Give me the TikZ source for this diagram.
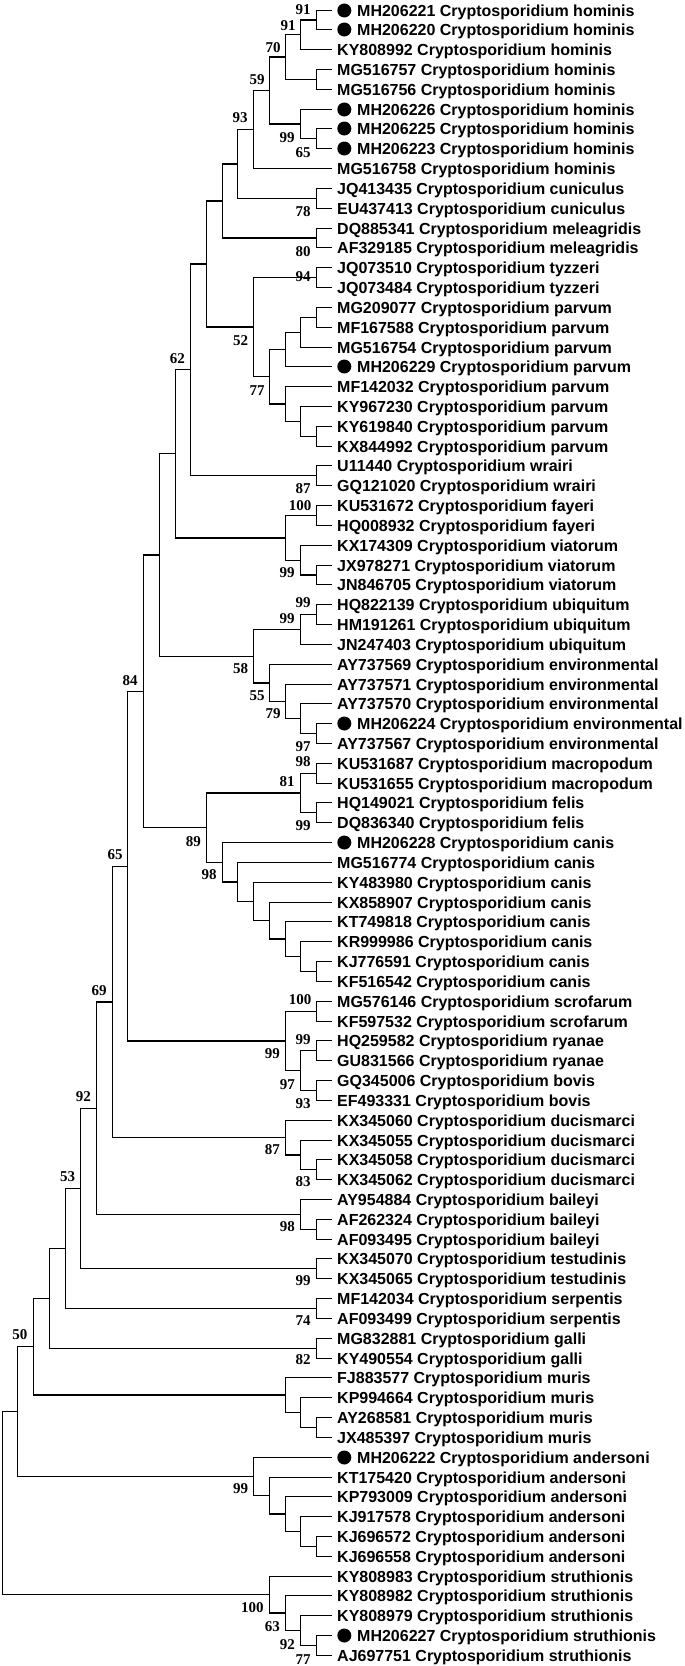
\documentclass[tikz,border=0pt]{standalone}
\usepackage{fontspec}
\setmainfont{Liberation Serif}
\newfontfamily\lsans{Liberation Sans}
\usetikzlibrary{calc}
\tikzset{
  br/.style={line width=1.3pt, black},
  lab/.style={anchor=base west, inner sep=0pt, font=\lsans\bfseries\fontsize{16}{19}\selectfont},
  bs/.style={anchor=center, inner sep=0pt, font=\bfseries\fontsize{15}{18}\selectfont},
  dot/.style={circle, fill=black, minimum size=14pt, inner sep=0pt}
}
\newcommand\cld[4]{%
  \path let \p1=(#3), \p2=(#4), \p3=({round(331.7-15.71*#2)+0.5},0) in (\x3,{0.5*(\y1+\y2)}) coordinate (#1);
  \draw[br] (#3) -| (#1) |- (#4);
}
\begin{document}
\begin{tikzpicture}[x=1pt,y=-1pt]
\fill[white] (0,0) rectangle (685,1666);
\useasboundingbox (0,0) rectangle (685,1666);
\foreach \i/\d/\t in {
1/1/MH206221 Cryptosporidium hominis,
2/1/MH206220 Cryptosporidium hominis,
3/0/KY808992 Cryptosporidium hominis,
4/0/MG516757 Cryptosporidium hominis,
5/0/MG516756 Cryptosporidium hominis,
6/1/MH206226 Cryptosporidium hominis,
7/1/MH206225 Cryptosporidium hominis,
8/1/MH206223 Cryptosporidium hominis,
9/0/MG516758 Cryptosporidium hominis,
10/0/JQ413435 Cryptosporidium cuniculus,
11/0/EU437413 Cryptosporidium cuniculus,
12/0/DQ885341 Cryptosporidium meleagridis,
13/0/AF329185 Cryptosporidium meleagridis,
14/0/JQ073510 Cryptosporidium tyzzeri,
15/0/JQ073484 Cryptosporidium tyzzeri,
16/0/MG209077 Cryptosporidium parvum,
17/0/MF167588 Cryptosporidium parvum,
18/0/MG516754 Cryptosporidium parvum,
19/1/MH206229 Cryptosporidium parvum,
20/0/MF142032 Cryptosporidium parvum,
21/0/KY967230 Cryptosporidium parvum,
22/0/KY619840 Cryptosporidium parvum,
23/0/KX844992 Cryptosporidium parvum,
24/0/U11440 Cryptosporidium wrairi,
25/0/GQ121020 Cryptosporidium wrairi,
26/0/KU531672 Cryptosporidium fayeri,
27/0/HQ008932 Cryptosporidium fayeri,
28/0/KX174309 Cryptosporidium viatorum,
29/0/JX978271 Cryptosporidium viatorum,
30/0/JN846705 Cryptosporidium viatorum,
31/0/HQ822139 Cryptosporidium ubiquitum,
32/0/HM191261 Cryptosporidium ubiquitum,
33/0/JN247403 Cryptosporidium ubiquitum,
34/0/AY737569 Cryptosporidium environmental,
35/0/AY737571 Cryptosporidium environmental,
36/0/AY737570 Cryptosporidium environmental,
37/1/MH206224 Cryptosporidium environmental,
38/0/AY737567 Cryptosporidium environmental,
39/0/KU531687 Cryptosporidium macropodum,
40/0/KU531655 Cryptosporidium macropodum,
41/0/HQ149021 Cryptosporidium felis,
42/0/DQ836340 Cryptosporidium felis,
43/1/MH206228 Cryptosporidium canis,
44/0/MG516774 Cryptosporidium canis,
45/0/KY483980 Cryptosporidium canis,
46/0/KX858907 Cryptosporidium canis,
47/0/KT749818 Cryptosporidium canis,
48/0/KR999986 Cryptosporidium canis,
49/0/KJ776591 Cryptosporidium canis,
50/0/KF516542 Cryptosporidium canis,
51/0/MG576146 Cryptosporidium scrofarum,
52/0/KF597532 Cryptosporidium scrofarum,
53/0/HQ259582 Cryptosporidium ryanae,
54/0/GU831566 Cryptosporidium ryanae,
55/0/GQ345006 Cryptosporidium bovis,
56/0/EF493331 Cryptosporidium bovis,
57/0/KX345060 Cryptosporidium ducismarci,
58/0/KX345055 Cryptosporidium ducismarci,
59/0/KX345058 Cryptosporidium ducismarci,
60/0/KX345062 Cryptosporidium ducismarci,
61/0/AY954884 Cryptosporidium baileyi,
62/0/AF262324 Cryptosporidium baileyi,
63/0/AF093495 Cryptosporidium baileyi,
64/0/KX345070 Cryptosporidium testudinis,
65/0/KX345065 Cryptosporidium testudinis,
66/0/MF142034 Cryptosporidium serpentis,
67/0/AF093499 Cryptosporidium serpentis,
68/0/MG832881 Cryptosporidium galli,
69/0/KY490554 Cryptosporidium galli,
70/0/FJ883577 Cryptosporidium muris,
71/0/KP994664 Cryptosporidium muris,
72/0/AY268581 Cryptosporidium muris,
73/0/JX485397 Cryptosporidium muris,
74/1/MH206222 Cryptosporidium andersoni,
75/0/KT175420 Cryptosporidium andersoni,
76/0/KP793009 Cryptosporidium andersoni,
77/0/KJ917578 Cryptosporidium andersoni,
78/0/KJ696572 Cryptosporidium andersoni,
79/0/KJ696558 Cryptosporidium andersoni,
80/0/KY808983 Cryptosporidium struthionis,
81/0/KY808982 Cryptosporidium struthionis,
82/0/KY808979 Cryptosporidium struthionis,
83/1/MH206227 Cryptosporidium struthionis,
84/0/AJ697751 Cryptosporidium struthionis}{
  \pgfmathsetmacro\yy{round(9.5+19.825*(\i-1))+0.5}
  \coordinate (L\i) at (331.7,\yy);
  \ifnum\d=1
    \node[dot] (D\i) at (344.3,\yy) {};
    \node[lab] (T\i) at (357,{\yy+5.75}) {\t};
  \else
    \node[lab] (T\i) at (337,{\yy+5.75}) {\t};
  \fi
}
% tree
\cld{A}{1}{L1}{L2}
\cld{B}{2}{A}{L3}
\cld{Dd}{1}{L4}{L5}
\cld{C}{3}{B}{Dd}
\cld{F}{1}{L7}{L8}
\cld{E}{2}{L6}{F}
\cld{G}{4}{C}{E}
\cld{H}{5}{G}{L9}
\cld{J}{1}{L10}{L11}
\cld{I}{6}{H}{J}
\cld{Lm}{1}{L12}{L13}
\cld{K}{7}{I}{Lm}
\cld{Ty}{1}{L14}{L15}
\cld{P1}{1}{L16}{L17}
\cld{P2}{2}{P1}{L18}
\cld{P3}{3}{P2}{L19}
\cld{Q1}{1}{L22}{L23}
\cld{Q2}{2}{L21}{Q1}
\cld{Q3}{3}{L20}{Q2}
\cld{P5}{4}{P3}{Q3}
\cld{TP}{5}{Ty}{P5}
\cld{M}{8}{K}{TP}
\cld{W}{1}{L24}{L25}
\cld{O}{9}{M}{W}
\cld{Fa}{1}{L26}{L27}
\cld{V1}{1}{L29}{L30}
\cld{V2}{2}{L28}{V1}
\cld{FV}{3}{Fa}{V2}
\cld{R}{10}{O}{FV}
\cld{U1}{1}{L31}{L32}
\cld{U2}{2}{U1}{L33}
\cld{E1}{1}{L37}{L38}
\cld{E2}{2}{L36}{E1}
\cld{E3}{3}{L35}{E2}
\cld{E4}{4}{L34}{E3}
\cld{UE}{5}{U2}{E4}
\cld{S}{11}{R}{UE}
\cld{Ma}{1}{L39}{L40}
\cld{Fe}{1}{L41}{L42}
\cld{MF}{2}{Ma}{Fe}
\cld{C1}{1}{L49}{L50}
\cld{C2}{2}{L48}{C1}
\cld{C3}{3}{L47}{C2}
\cld{C4}{4}{L46}{C3}
\cld{C5}{5}{L45}{C4}
\cld{C6}{6}{L44}{C5}
\cld{C7}{7}{L43}{C6}
\cld{FC}{8}{MF}{C7}
\cld{N84}{12}{S}{FC}
\cld{Sc}{1}{L51}{L52}
\cld{Ry}{1}{L53}{L54}
\cld{Bo}{1}{L55}{L56}
\cld{RB}{2}{Ry}{Bo}
\cld{SRB}{3}{Sc}{RB}
\cld{N65}{13}{N84}{SRB}
\cld{D1}{1}{L59}{L60}
\cld{D2}{2}{L58}{D1}
\cld{D3}{3}{L57}{D2}
\cld{N69}{14}{N65}{D3}
\cld{B1}{1}{L62}{L63}
\cld{B2}{2}{L61}{B1}
\cld{N92}{15}{N69}{B2}
\cld{Te}{1}{L64}{L65}
\cld{N53}{16}{N92}{Te}
\cld{Se}{1}{L66}{L67}
\cld{X1}{17}{N53}{Se}
\cld{Ga}{1}{L68}{L69}
\cld{X2}{18}{X1}{Ga}
\cld{M1}{1}{L72}{L73}
\cld{M2}{2}{L71}{M1}
\cld{M3}{3}{L70}{M2}
\cld{N50}{19}{X2}{M3}
\cld{A1}{1}{L78}{L79}
\cld{A2}{2}{L77}{A1}
\cld{A3}{3}{L76}{A2}
\cld{A4}{4}{L75}{A3}
\cld{A5}{5}{L74}{A4}
\cld{N17}{20}{N50}{A5}
\cld{S1}{1}{L83}{L84}
\cld{S2}{2}{L82}{S1}
\cld{S3}{3}{L81}{S2}
\cld{S4}{4}{L80}{S3}
\cld{Root}{21}{N17}{S4}
% bootstrap values
\foreach \bx/\by/\bv [count=\n] in {
303/10/91, 288/26/91, 273/48/70, 257/80/59, 240/118/93, 287/138/99, 303/153/65,
303/212/78, 303/252/80, 303/277/94, 240.7/341/52, 177.3/359/62, 257/391/77,
303/489/87, 300/505.7/100, 287/573/99, 303/603/99, 287/619/99, 240.7/669/58,
130/680.7/84, 257/696/55, 273/714/79, 303/747/97, 303/761.7/98, 287/781.7/81,
303/825.7/99, 193.3/841.7/89, 115/855/65, 209/875/98, 99/990.7/69, 300/1000/100,
303/1039.3/99, 272.3/1053.3/99, 287.3/1084.3/97, 83.3/1096.7/92, 303/1103.3/93,
272.3/1150/87, 67.7/1176.7/53, 303/1181.7/83, 287.3/1226.7/98, 303/1281/99,
303/1321/74, 20/1335/50, 303/1360/82, 240.7/1489/99, 252.3/1607.3/100,
272.3/1626.7/63, 287.3/1645/92, 303/1659.3/77}{
  \node[bs] (bs\n) at (\bx,\by) {\bv};
}
\end{tikzpicture}
\end{document}
